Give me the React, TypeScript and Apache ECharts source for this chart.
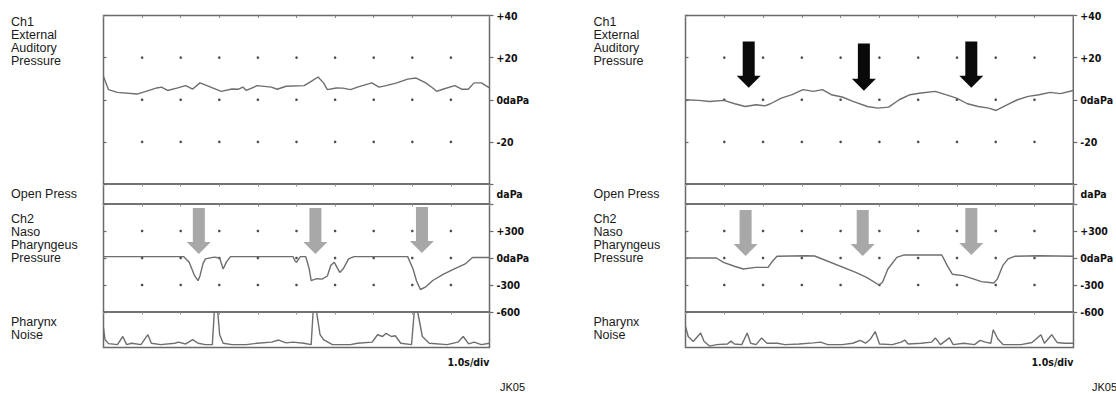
import React, { useEffect, useRef } from "react";
import * as echarts from "echarts";

// ---- data (time in s, value in channel units) ----
const leftCh1: number[][] = [[0,11],[0.13,4.8],[0.36,3.5],[0.87,2.7],[1.1,4],[1.38,5.6],[1.5,6],[1.66,4.4],[1.9,5.5],[2.13,6.7],[2.31,5.1],[2.5,8],[2.68,6.7],[3.05,4],[3.33,5.1],[3.5,5],[3.61,6],[3.7,4.4],[3.98,6.7],[4.35,6],[4.5,5],[4.73,6.4],[5.2,6.7],[5.38,8.7],[5.56,10.8],[5.7,8],[5.8,4.8],[6.03,5.6],[6.2,5.5],[6.4,4.8],[6.58,6],[6.95,8],[7.14,6],[7.32,6.7],[7.6,8],[7.88,9.8],[8.1,10.3],[8.35,8],[8.53,5.6],[8.63,4],[8.81,5.1],[9.1,6.7],[9.28,5],[9.45,5],[9.6,8],[9.79,8],[10,5.6]];
const leftCh2: number[][] = [[0,15],[2.08,15],[2.22,-48],[2.36,-196],[2.45,-252],[2.5,-196],[2.58,-60],[2.64,-10],[2.87,10],[3.01,0],[3.1,-122],[3.19,-40],[3.29,15],[4.91,15],[4.96,-30],[5.0,-48],[5.1,15],[5.24,15],[5.33,-122],[5.38,-252],[5.52,-230],[5.66,-235],[5.8,-200],[5.89,-80],[5.98,-48],[6.12,-160],[6.21,-120],[6.35,-10],[6.49,15],[7.88,15],[8.02,-122],[8.11,-255],[8.21,-350],[8.35,-320],[8.53,-250],[8.81,-180],[9.09,-122],[9.37,-66],[9.56,5],[10,5]];
const leftNoise: number[][] = [[0,55],[0.04,22],[0.13,11],[0.36,8],[0.5,31],[0.6,8],[0.73,12],[0.97,8],[1.15,36],[1.24,12],[1.48,8],[1.85,12],[1.94,15],[2.13,10],[2.31,22],[2.45,12],[2.64,8],[2.82,8],[2.87,100],[2.96,100],[3.01,36],[3.1,12],[3.33,8],[3.7,8],[3.98,12],[4.35,15],[4.54,21],[4.73,13],[4.91,15],[5.19,12],[5.38,8],[5.43,100],[5.52,100],[5.61,36],[5.7,22],[5.93,8],[6.4,8],[6.58,12],[6.96,15],[7.1,36],[7.23,31],[7.32,40],[7.46,31],[7.56,33],[7.7,12],[7.98,8],[8.05,100],[8.14,100],[8.26,31],[8.44,12],[8.9,8],[9.18,15],[9.32,31],[9.46,10],[9.6,15],[9.79,8],[10,12]];
const rightCh1: number[][] = [[0,0],[0.34,-0.3],[0.62,-0.8],[0.99,-0.3],[1.27,-1.9],[1.54,-3.2],[1.82,-2.4],[2.05,-2.9],[2.19,-1.9],[2.47,0.8],[2.75,2.4],[3.03,4.8],[3.3,4],[3.53,4.8],[3.76,2.4],[4.04,1.3],[4.32,-0.8],[4.69,-3.2],[4.96,-4],[5.24,-3.5],[5.51,0],[5.79,2.4],[6.07,3.2],[6.44,4],[6.71,2.4],[6.99,0.8],[7.27,-1.9],[7.55,-3.2],[7.82,-4],[8.01,-5.1],[8.29,-2.4],[8.56,0],[8.84,1.6],[9.12,2.4],[9.4,3.5],[9.67,2.9],[10,4.4]];
const rightCh2: number[][] = [[0,0],[0.8,0],[0.98,-48],[1.26,-92],[1.49,-122],[1.81,-104],[2.13,-104],[2.22,-48],[2.36,20],[3.1,25],[3.33,22],[4.39,-159],[4.67,-215],[4.99,-300],[5.08,-270],[5.22,-122],[5.45,7],[5.64,35],[6.61,33],[6.75,-85],[6.88,-180],[7.16,-196],[7.44,-235],[7.63,-263],[7.95,-277],[8.04,-235],[8.18,-85],[8.32,-10],[8.5,20],[9.1,25],[10,20]];
const rightNoise: number[][] = [[0,59],[0.07,31],[0.2,17],[0.39,41],[0.48,17],[0.62,4],[0.8,8],[1.08,10],[1.17,18],[1.26,10],[1.45,8],[1.59,41],[1.68,12],[1.82,8],[1.96,27],[2.1,12],[2.37,12],[2.56,8],[2.93,10],[3.3,13],[3.48,15],[3.67,8],[4.04,8],[4.31,12],[4.5,20],[4.64,12],[4.77,24],[4.89,45],[5.0,10],[5.33,8],[5.56,15],[5.65,21],[5.74,10],[6.07,12],[6.34,15],[6.44,27],[6.57,8],[6.8,27],[6.9,8],[7.17,12],[7.45,8],[7.59,20],[7.73,15],[7.87,12],[7.93,50],[8.05,24],[8.19,8],[8.65,8],[8.93,14],[9.16,36],[9.25,12],[9.44,36],[9.58,14],[9.76,12],[9.99,12]];

// grid divisions and dot rows
const timeDivs = [1, 2, 3, 4, 5, 6, 7, 8, 9];
const ch1Rows = [20, 0, -20];
const ch2Rows = [300, 0, -300];

// arrows: [time, topValue, tipValue]
const leftCh2Arrows: number[][] = [[2.47, 555, 44], [5.49, 555, 44], [8.25, 566, 55]];
const rightCh2Arrows: number[][] = [[1.55, 533, 22], [4.57, 533, 22], [7.37, 555, 33]];
const rightCh1Arrows: number[][] = [[1.63, 27.6, 5.7], [4.6, 26.7, 4.3], [7.37, 27.6, 5.7]];

const ch1Labels: Record<string, string> = { "40": "+40", "20": "+20", "0": "0daPa", "-20": "-20" };
const ch2Labels: Record<string, string> = { "300": "+300", "0": "0daPa", "-300": "-300", "-600": "-600" };

const TXT = '"Liberation Sans", Arial, sans-serif';
const AX = '"DejaVu Sans Condensed", sans-serif';
const BORDER = "#6a6a6a";
const TRACE = "#6e6e6e";

export default function App() {
  const ref = useRef<HTMLDivElement>(null);
  useEffect(() => {
    document.body.style.margin = "0";
    const chart = echarts.init(ref.current!, null, { renderer: "svg" });
    const panels = [
      { left: 103.5, width: 386, ch1: leftCh1, ch2: leftCh2, noise: leftNoise, lx: 11, jk: 500 },
      { left: 685.5, width: 388, ch1: rightCh1, ch2: rightCh2, noise: rightNoise, lx: 593.5, jk: 1092 },
    ];
    const bands = [
      { top: 15.5, height: 168.5 },
      { top: 184, height: 20 },
      { top: 204, height: 108 },
      { top: 312, height: 35.5 },
    ];
    const grid: any[] = [], xAxis: any[] = [], yAxis: any[] = [], series: any[] = [];
    panels.forEach((p, pi) => {
      bands.forEach((b, bi) => {
        const g = pi * 4 + bi;
        grid.push({ left: p.left, width: p.width, top: b.top, height: b.height, show: true, borderColor: BORDER, borderWidth: 1.5, backgroundColor: "transparent" });
        xAxis.push({
          gridIndex: g, type: "value", min: 0, max: 10, interval: 1, position: "top",
          axisLine: { show: false, onZero: false }, axisLabel: { show: false }, splitLine: { show: false },
          axisTick: { show: true, inside: true, length: 2.5, lineStyle: { color: "#888", width: 1 } },
        });
        let range: any;
        let labels: Record<string, string> | null = null;
        if (bi === 0) { range = { min: -40, max: 40, interval: 20 }; labels = ch1Labels; }
        else if (bi === 1) { range = { min: 0, max: 1, interval: 1 }; }
        else if (bi === 2) { range = { min: -600, max: 600, interval: 300 }; labels = ch2Labels; }
        else { range = { min: 0, max: 100, interval: 100 }; }
        const has = labels !== null;
        const lab = labels;
        yAxis.push({
          gridIndex: g, type: "value", position: "right", ...range,
          axisLine: { show: false, onZero: false }, splitLine: { show: false },
          axisTick: { show: has, length: 4, lineStyle: { color: BORDER, width: 1.2 } },
          axisLabel: {
            show: has, margin: 7, color: "#111", fontFamily: AX, fontWeight: "bold", fontSize: 10.5,
            formatter: (v: number) => (lab ? lab[String(v)] ?? "" : ""),
          },
        });
        yAxis.push({
          gridIndex: g, type: "value", position: "left", ...range,
          axisLine: { show: false, onZero: false }, splitLine: { show: false }, axisLabel: { show: false },
          axisTick: { show: has, inside: true, length: 3, lineStyle: { color: BORDER, width: 1.2 } },
        });
        const yi = g * 2;
        const data = bi === 0 ? p.ch1 : bi === 2 ? p.ch2 : bi === 3 ? p.noise : null;
        if (data) {
          series.push({
            type: "line", xAxisIndex: g, yAxisIndex: yi, data, showSymbol: false,
            lineStyle: { color: TRACE, width: 1.4 }, silent: true,
          });
        }
        const rows = bi === 0 ? ch1Rows : bi === 2 ? ch2Rows : null;
        if (rows) {
          const dots: number[][] = [];
          timeDivs.forEach((t) => rows.forEach((r) => dots.push([t, r])));
          series.push({
            type: "scatter", xAxisIndex: g, yAxisIndex: yi, data: dots, symbolSize: 2.6,
            itemStyle: { color: "#222" }, silent: true,
          });
        }
      });
    });
    chart.setOption({ animation: false, grid, xAxis, yAxis, series });

    const graphic: any[] = [];
    const txt = (x: number, y: number, text: string, extra: any = {}) =>
      graphic.push({ type: "text", x, y, style: { text, fill: "#1a1a1a", font: `12.5px ${TXT}`, textVerticalAlign: "middle", lineHeight: 13, ...extra } });
    panels.forEach((p) => {
      txt(p.lx, 41, "Ch1\nExternal\nAuditory\nPressure");
      txt(p.lx, 194, "Open Press");
      txt(p.lx, 238, "Ch2\nNaso\nPharyngeus\nPressure");
      txt(p.lx, 328, "Pharynx\nNoise");
      const rx = p.left + p.width;
      txt(rx + 7, 194, "daPa", { font: `bold 10.5px ${AX}`, fill: "#111" });
      txt(rx, 362, "1.0s/div", { textAlign: "right", font: `bold 10.5px ${AX}`, fill: "#111" });
      txt(p.jk, 387, "JK05", { font: `11px ${TXT}`, fill: "#111" });
    });
    const arrow = (g: number, a: number[], color: string) => {
      const top = chart.convertToPixel({ xAxisIndex: g, yAxisIndex: g * 2 }, [a[0], a[1]]) as number[];
      const tip = chart.convertToPixel({ xAxisIndex: g, yAxisIndex: g * 2 }, [a[0], a[2]]) as number[];
      const cx = top[0], ty = top[1], by = tip[1], hh = 12, shaft = 6, head = 12;
      graphic.push({
        type: "polygon", silent: true,
        shape: { points: [[cx - shaft, ty], [cx + shaft, ty], [cx + shaft, by - hh], [cx + head, by - hh], [cx, by], [cx - head, by - hh], [cx - shaft, by - hh]] },
        style: { fill: color },
      });
    };
    leftCh2Arrows.forEach((a) => arrow(2, a, "#a8a8a8"));
    rightCh2Arrows.forEach((a) => arrow(6, a, "#a8a8a8"));
    rightCh1Arrows.forEach((a) => arrow(4, a, "#0a0a0a"));
    chart.setOption({ graphic });
    return () => chart.dispose();
  }, []);
  return <div ref={ref} style={{ width: 1116, height: 393, position: "absolute", left: 0, top: 0, background: "#fff" }} />;
}
